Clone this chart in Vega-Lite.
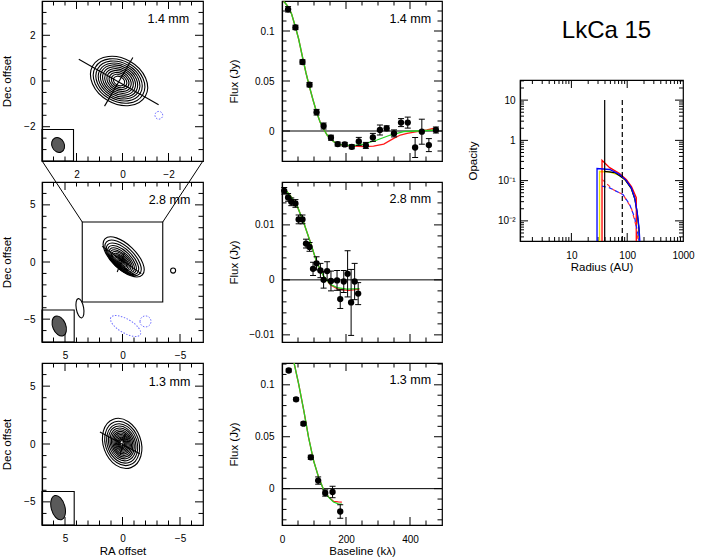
{
"$schema":"https://vega.github.io/schema/vega-lite/v6.json",
"padding":{"left":0,"top":0,"right":5,"bottom":3},
"autosize":{"type":"pad"},
"config":{
 "font":"Liberation Sans",
 "view":{"stroke":"black","strokeWidth":1.2},
 "axis":{"domainColor":"black","domainWidth":1.2,"ticks":false,"labelColor":"black","labelFontSize":10,"titleColor":"black","titleFontSize":11.5,"titleFontWeight":"normal","grid":false,"labelFlush":false,"labelOverlap":false},
 "tick":{"thickness":1,"opacity":1,"color":"black"},
 "text":{"color":"black"}
},
"datasets":{
 "kP1maj":[{"v":-2},{"v":0},{"v":2}],
 "kP1min":[{"v":-3},{"v":-2.5},{"v":-1.5},{"v":-1},{"v":-0.5},{"v":0.5},{"v":1},{"v":1.5},{"v":2.5},{"v":3}],
 "kP2maj":[{"v":-5},{"v":0},{"v":5}],
 "kP2min":[{"v":-6},{"v":-4},{"v":-3},{"v":-2},{"v":-1},{"v":1},{"v":2},{"v":3},{"v":4},{"v":6}],
 "kMxmaj":[{"v":200},{"v":400}],
 "kMxmin":[{"v":50},{"v":100},{"v":150},{"v":250},{"v":300},{"v":350},{"v":450}],
 "kM1maj":[{"v":0},{"v":0.05},{"v":0.1}],
 "kM1min":[{"v":-0.02},{"v":-0.01},{"v":0.01},{"v":0.02},{"v":0.03},{"v":0.04},{"v":0.06},{"v":0.07},{"v":0.08},{"v":0.09},{"v":0.11},{"v":0.12}],
 "kM2maj":[{"v":-0.01},{"v":0},{"v":0.01}],
 "kM2min":[{"v":-0.008},{"v":-0.006},{"v":-0.004},{"v":-0.002},{"v":0.002},{"v":0.004},{"v":0.006},{"v":0.008},{"v":0.012},{"v":0.014},{"v":0.016}],
 "kM3min":[{"v":-0.03},{"v":-0.02},{"v":-0.01},{"v":0.01},{"v":0.02},{"v":0.03},{"v":0.04},{"v":0.06},{"v":0.07},{"v":0.08},{"v":0.09},{"v":0.11},{"v":0.12}],
 "kRxmaj":[{"v":10},{"v":100}],
 "kRxmin":[{"v":2},{"v":3},{"v":4},{"v":5},{"v":6},{"v":7},{"v":8},{"v":9},{"v":20},{"v":30},{"v":40},{"v":50},{"v":60},{"v":70},{"v":80},{"v":90},{"v":200},{"v":300},{"v":400},{"v":500},{"v":600},{"v":700},{"v":800},{"v":900}],
 "kRymaj":[{"v":0.01},{"v":0.1},{"v":1},{"v":10}],
 "kRymin":[{"v":0.004},{"v":0.005},{"v":0.006},{"v":0.007},{"v":0.008},{"v":0.009},{"v":0.02},{"v":0.03},{"v":0.04},{"v":0.05},{"v":0.06},{"v":0.07},{"v":0.08},{"v":0.09},{"v":0.2},{"v":0.3},{"v":0.4},{"v":0.5},{"v":0.6},{"v":0.7},{"v":0.8},{"v":0.9},{"v":2},{"v":3},{"v":4},{"v":5},{"v":6},{"v":7},{"v":8},{"v":9},{"v":20},{"v":30}],
 "c14":[{"ra":0.15,"dec":0,"a":1.32},{"ra":0.15,"dec":0,"a":1.19},{"ra":0.15,"dec":0,"a":1.07},{"ra":0.15,"dec":0,"a":0.96},{"ra":0.15,"dec":0,"a":0.86},{"ra":0.15,"dec":0,"a":0.76},{"ra":0.15,"dec":0,"a":0.66},{"ra":0.15,"dec":0,"a":0.56},{"ra":0.15,"dec":0,"a":0.46},{"ra":0.15,"dec":0,"a":0.36},{"ra":0.15,"dec":0,"a":0.26}],
 "n14":[{"ra":-1.58,"dec":-1.5,"a":0.17}],
 "x14":[{"seg":"major","ra":1.9,"dec":0.95},{"seg":"major","ra":-1.57,"dec":-1.04},{"seg":"minor","ra":-0.45,"dec":1.03},{"seg":"minor","ra":0.78,"dec":-1.1}],
 "c28":[{"ra":-0.1,"dec":0.45,"a":2.26},{"ra":-0.05,"dec":0.36,"a":2.0},{"ra":0.0,"dec":0.28,"a":1.78},{"ra":0.04,"dec":0.21,"a":1.58},{"ra":0.07,"dec":0.15,"a":1.4},{"ra":0.1,"dec":0.11,"a":1.23},{"ra":0.12,"dec":0.08,"a":1.07},{"ra":0.14,"dec":0.05,"a":0.92},{"ra":0.15,"dec":0.03,"a":0.78},{"ra":0.16,"dec":0.02,"a":0.65},{"ra":0.17,"dec":0.01,"a":0.52},{"ra":0.17,"dec":0,"a":0.4},{"ra":0.17,"dec":0,"a":0.28},{"ra":0.17,"dec":0,"a":0.17}],
 "x28":[{"seg":"major","ra":1.77,"dec":1.37},{"seg":"major","ra":-1.63,"dec":-1.02},{"seg":"minor","ra":-0.17,"dec":0.79},{"seg":"minor","ra":0.46,"dec":-0.88}],
 "c13":[{"ra":0.03,"dec":0.05,"a":2.24},{"ra":0.03,"dec":0.05,"a":1.98},{"ra":0.03,"dec":0.05,"a":1.76},{"ra":0.03,"dec":0.05,"a":1.56},{"ra":0.03,"dec":0.05,"a":1.38},{"ra":0.03,"dec":0.05,"a":1.22},{"ra":0.03,"dec":0.05,"a":1.07},{"ra":0.03,"dec":0.05,"a":0.93},{"ra":0.03,"dec":0.05,"a":0.8},{"ra":0.03,"dec":0.05,"a":0.68},{"ra":0.03,"dec":0.05,"a":0.56},{"ra":0.03,"dec":0.05,"a":0.45},{"ra":0.03,"dec":0.05,"a":0.35},{"ra":0.03,"dec":0.05,"a":0.25}],
 "x13":[{"seg":"major","ra":1.96,"dec":1.04},{"seg":"major","ra":-1.5,"dec":-0.84},{"seg":"minor","ra":-0.25,"dec":0.95},{"seg":"minor","ra":0.2,"dec":-0.95}],
 "v14":[{"b":19,"flux":0.1217,"err":0.0027},{"b":42,"flux":0.1036,"err":0.0022},{"b":64,"flux":0.069,"err":0.0022},{"b":86,"flux":0.0463,"err":0.0022},{"b":108,"flux":0.0188,"err":0.0028},{"b":130,"flux":0.005,"err":0.003},{"b":153,"flux":-0.0067,"err":0.0025},{"b":174,"flux":-0.0131,"err":0.002},{"b":196,"flux":-0.0134,"err":0.002},{"b":218,"flux":-0.0158,"err":0.002},{"b":240,"flux":-0.0104,"err":0.004},{"b":262,"flux":-0.0144,"err":0.003},{"b":284,"flux":-0.0064,"err":0.004},{"b":306,"flux":0.001,"err":0.005},{"b":327,"flux":0.0027,"err":0.0025},{"b":350,"flux":-0.0024,"err":0.0035},{"b":372,"flux":0.0084,"err":0.004},{"b":393,"flux":0.0084,"err":0.0055},{"b":416,"flux":-0.0165,"err":0.01},{"b":437,"flux":-0.0007,"err":0.0125},{"b":459,"flux":-0.0141,"err":0.0065},{"b":481,"flux":0.001,"err":0.003}],
 "g14":[{"b":5,"flux":0.1295},{"b":10,"flux":0.128},{"b":20,"flux":0.124},{"b":30,"flux":0.117},{"b":42,"flux":0.104},{"b":52,"flux":0.092},{"b":64,"flux":0.074},{"b":75,"flux":0.058},{"b":86,"flux":0.044},{"b":97,"flux":0.031},{"b":108,"flux":0.019},{"b":119,"flux":0.009},{"b":130,"flux":0.002},{"b":141,"flux":-0.004},{"b":152,"flux":-0.008},{"b":163,"flux":-0.011},{"b":176,"flux":-0.0131},{"b":192,"flux":-0.0141},{"b":224,"flux":-0.0147},{"b":255,"flux":-0.0131},{"b":297,"flux":-0.009},{"b":339,"flux":-0.004},{"b":380,"flux":-0.0007},{"b":422,"flux":0.0},{"b":484,"flux":0.001}],
 "r14":[{"b":5,"flux":0.1295},{"b":10,"flux":0.128},{"b":20,"flux":0.124},{"b":30,"flux":0.117},{"b":42,"flux":0.104},{"b":52,"flux":0.092},{"b":64,"flux":0.074},{"b":75,"flux":0.058},{"b":86,"flux":0.044},{"b":97,"flux":0.031},{"b":108,"flux":0.019},{"b":119,"flux":0.009},{"b":130,"flux":0.002},{"b":141,"flux":-0.004},{"b":152,"flux":-0.008},{"b":163,"flux":-0.011},{"b":176,"flux":-0.0132},{"b":192,"flux":-0.0143},{"b":224,"flux":-0.0152},{"b":255,"flux":-0.0155},{"b":286,"flux":-0.0151},{"b":318,"flux":-0.0131},{"b":349,"flux":-0.0074},{"b":370,"flux":-0.004},{"b":391,"flux":-0.0024},{"b":422,"flux":-0.0007},{"b":453,"flux":0.001},{"b":484,"flux":0.0034}],
 "v28":[{"b":7,"flux":0.0162,"err":0.0006},{"b":19,"flux":0.015,"err":0.0007},{"b":29,"flux":0.0142,"err":0.0007},{"b":42,"flux":0.0139,"err":0.0007},{"b":52,"flux":0.011,"err":0.0008},{"b":64,"flux":0.011,"err":0.0008},{"b":75,"flux":0.0066,"err":0.0008},{"b":86,"flux":0.006,"err":0.0008},{"b":97,"flux":0.002,"err":0.0012},{"b":108,"flux":0.003,"err":0.0012},{"b":120,"flux":0.0017,"err":0.0013},{"b":130,"flux":0.0,"err":0.0015},{"b":141,"flux":0.0016,"err":0.0017},{"b":153,"flux":-0.0002,"err":0.0018},{"b":172,"flux":-0.0001,"err":0.0018},{"b":182,"flux":-0.0035,"err":0.0017},{"b":193,"flux":-0.0003,"err":0.002},{"b":205,"flux":0.0011,"err":0.0042},{"b":216,"flux":-0.0041,"err":0.006},{"b":227,"flux":-0.0003,"err":0.0033},{"b":238,"flux":-0.0025,"err":0.002}],
 "g28":[{"b":4,"flux":0.0168},{"b":26,"flux":0.0153},{"b":47,"flux":0.0135},{"b":68,"flux":0.0104},{"b":89,"flux":0.0068},{"b":109,"flux":0.0031},{"b":130,"flux":0.0007},{"b":151,"flux":-0.0008},{"b":172,"flux":-0.0014},{"b":203,"flux":-0.0017},{"b":242,"flux":-0.0016}],
 "r28":[{"b":4,"flux":0.0168},{"b":26,"flux":0.0153},{"b":47,"flux":0.0135},{"b":68,"flux":0.0104},{"b":89,"flux":0.0068},{"b":109,"flux":0.0031},{"b":130,"flux":0.0007},{"b":151,"flux":-0.0009},{"b":172,"flux":-0.0016},{"b":190,"flux":-0.0018},{"b":210,"flux":-0.0019},{"b":242,"flux":-0.0017}],
 "v13":[{"b":21,"flux":0.1138,"err":0.0015},{"b":44,"flux":0.086,"err":0.0015},{"b":67,"flux":0.0626,"err":0.0015},{"b":90,"flux":0.0302,"err":0.002},{"b":113,"flux":0.0078,"err":0.0035},{"b":135,"flux":-0.0042,"err":0.003},{"b":158,"flux":-0.0032,"err":0.0055},{"b":182,"flux":-0.022,"err":0.0065}],
 "g13":[{"b":32,"flux":0.128},{"b":37,"flux":0.122},{"b":52,"flux":0.101},{"b":68,"flux":0.0753},{"b":83,"flux":0.0493},{"b":99,"flux":0.0266},{"b":115,"flux":0.0104},{"b":130,"flux":-0.001},{"b":146,"flux":-0.0084},{"b":161,"flux":-0.0129},{"b":176,"flux":-0.0146},{"b":187,"flux":-0.0149}],
 "r13":[{"b":32,"flux":0.128},{"b":37,"flux":0.122},{"b":52,"flux":0.101},{"b":68,"flux":0.0753},{"b":83,"flux":0.0493},{"b":99,"flux":0.0266},{"b":115,"flux":0.0104},{"b":130,"flux":-0.001},{"b":146,"flux":-0.0082},{"b":161,"flux":-0.0122},{"b":176,"flux":-0.0128},{"b":187,"flux":-0.013}],
 "py":[{"r":32,"tau":0.001},{"r":32,"tau":0.169},{"r":48,"tau":0.166},{"r":73,"tau":0.135},{"r":97,"tau":0.097},{"r":118,"tau":0.064},{"r":136,"tau":0.037},{"r":150,"tau":0.017},{"r":160,"tau":0.007},{"r":167,"tau":0.001}],
 "pk":[{"r":39.5,"tau":0.17},{"r":60,"tau":0.158},{"r":90,"tau":0.108},{"r":118,"tau":0.064},{"r":138,"tau":0.034},{"r":152,"tau":0.015},{"r":163,"tau":0.006},{"r":170,"tau":0.001}],
 "pr":[{"r":35.4,"tau":0.001},{"r":35.4,"tau":0.32},{"r":48.5,"tau":0.21},{"r":73,"tau":0.15},{"r":97,"tau":0.105},{"r":120,"tau":0.07},{"r":145.6,"tau":0.0375},{"r":145.6,"tau":0.001}],
 "pb":[{"r":28.8,"tau":0.001},{"r":28.8,"tau":0.2},{"r":48.5,"tau":0.189},{"r":73.4,"tau":0.142},{"r":96.5,"tau":0.1},{"r":118.6,"tau":0.066},{"r":136,"tau":0.0375},{"r":150,"tau":0.0175},{"r":163,"tau":0.0068},{"r":172,"tau":0.002},{"r":175,"tau":0.001}],
 "prd":[{"r":35.4,"tau":0.107},{"r":55.7,"tau":0.06},{"r":84,"tau":0.045},{"r":118.6,"tau":0.021},{"r":142,"tau":0.0081},{"r":156,"tau":0.0035}],
 "pbd":[{"r":35.4,"tau":0.073},{"r":48.5,"tau":0.066},{"r":84,"tau":0.045},{"r":110.6,"tau":0.0257},{"r":136,"tau":0.012},{"r":156,"tau":0.0046},{"r":165,"tau":0.003}],
 "rings":[{"r":39.5,"kind":"solid"},{"r":81.7,"kind":"dashed"}]
},
"spacing":22,
"resolve":{"scale":{"size":"independent","color":"independent","strokeDash":"independent"}},
"hconcat":[
 {"vconcat":[
  {"width":161,"height":160,
   "resolve":{"axis":{"x":"independent","y":"independent"}},
   "layer":[
    {"data":{"name":"kP1maj"},"mark":{"type":"tick","orient":"vertical","size":16,"clip":true},"encoding":{"x":{"field":"v","type":"quantitative","axis":null},"y":{"datum":-3.5,"axis":null}}},
    {"data":{"name":"kP1maj"},"mark":{"type":"tick","orient":"vertical","size":16,"clip":true},"encoding":{"x":{"field":"v","type":"quantitative","axis":null},"y":{"datum":3.5,"axis":null}}},
    {"data":{"name":"kP1min"},"mark":{"type":"tick","orient":"vertical","size":9,"clip":true},"encoding":{"x":{"field":"v","type":"quantitative","axis":null},"y":{"datum":-3.5,"axis":null}}},
    {"data":{"name":"kP1min"},"mark":{"type":"tick","orient":"vertical","size":9,"clip":true},"encoding":{"x":{"field":"v","type":"quantitative","axis":null},"y":{"datum":3.5,"axis":null}}},
    {"data":{"name":"kP1maj"},"mark":{"type":"tick","orient":"horizontal","size":16,"clip":true},"encoding":{"y":{"field":"v","type":"quantitative","axis":null},"x":{"datum":-3.5,"axis":null}}},
    {"data":{"name":"kP1maj"},"mark":{"type":"tick","orient":"horizontal","size":16,"clip":true},"encoding":{"y":{"field":"v","type":"quantitative","axis":null},"x":{"datum":3.5,"axis":null}}},
    {"data":{"name":"kP1min"},"mark":{"type":"tick","orient":"horizontal","size":9,"clip":true},"encoding":{"y":{"field":"v","type":"quantitative","axis":null},"x":{"datum":-3.5,"axis":null}}},
    {"data":{"name":"kP1min"},"mark":{"type":"tick","orient":"horizontal","size":9,"clip":true},"encoding":{"y":{"field":"v","type":"quantitative","axis":null},"x":{"datum":3.5,"axis":null}}},
    {"data":{"name":"c14"},
     "mark":{"type":"point","shape":"M-1,0A1,0.74,0,1,0,1,0A1,0.74,0,1,0,-1,0Z","angle":30,"filled":false,"color":"black","strokeWidth":1.1,"opacity":1},
     "encoding":{
      "x":{"field":"ra","type":"quantitative","scale":{"domain":[-3.5,3.5],"reverse":true,"nice":false,"zero":false},
           "axis":{"orient":"bottom","title":null,"values":[-2,0,2],"format":"~g","labelPadding":8}},
      "y":{"field":"dec","type":"quantitative","scale":{"domain":[-3.5,3.5],"nice":false,"zero":false},
           "axis":{"orient":"left","title":"Dec offset","titleX":-30,"values":[-2,0,2],"format":"~g","labelPadding":7}},
      "size":{"field":"a","type":"quantitative","scale":{"type":"pow","exponent":2,"domain":[0,3.5],"range":[0,25921]},"legend":null}}},
    {"data":{"name":"n14"},
     "mark":{"type":"point","shape":"M-1,0A1,1,0,1,0,1,0A1,1,0,1,0,-1,0Z","filled":false,"color":"#7070ff","strokeWidth":1,"strokeDash":[1.5,1.5],"opacity":1},
     "encoding":{"x":{"field":"ra","type":"quantitative","axis":null},"y":{"field":"dec","type":"quantitative","axis":null},"size":{"field":"a","type":"quantitative","legend":null}}},
    {"data":{"name":"x14"},
     "mark":{"type":"line","color":"black","strokeWidth":1.1},
     "encoding":{"x":{"field":"ra","type":"quantitative","axis":null},"y":{"field":"dec","type":"quantitative","axis":null},"detail":{"field":"seg"}}},
    {"data":{"values":[{}]},
     "mark":{"type":"rect","fill":"transparent","stroke":"black","strokeWidth":1.1},
     "encoding":{"x":{"datum":3.5,"axis":null},"x2":{"datum":2.13},"y":{"datum":-3.5,"axis":null},"y2":{"datum":-2.12}}},
    {"data":{"values":[{}]},
     "mark":{"type":"point","shape":"M0,-1A0.8,1,0,1,0,0,1A0.8,1,0,1,0,0,-1Z","angle":-25,"filled":true,"color":"#5a5a5a","stroke":"black","strokeWidth":1,"size":240,"opacity":1},
     "encoding":{"x":{"datum":2.8,"axis":null},"y":{"datum":-2.8,"axis":null}}},
    {"data":{"values":[{"t":"1.4 mm"}]},
     "mark":{"type":"text","align":"right","baseline":"middle","fontSize":12.5},
     "encoding":{"x":{"datum":-2.9,"axis":null},"y":{"datum":2.7,"axis":null},"text":{"field":"t"}}}
   ]},
  {"width":161,"height":160,
   "resolve":{"axis":{"x":"independent","y":"independent"}},
   "layer":[
    {"data":{"name":"kP2maj"},"mark":{"type":"tick","orient":"vertical","size":16,"clip":true},"encoding":{"x":{"field":"v","type":"quantitative","axis":null},"y":{"datum":-7,"axis":null}}},
    {"data":{"name":"kP2maj"},"mark":{"type":"tick","orient":"vertical","size":16,"clip":true},"encoding":{"x":{"field":"v","type":"quantitative","axis":null},"y":{"datum":7,"axis":null}}},
    {"data":{"name":"kP2min"},"mark":{"type":"tick","orient":"vertical","size":9,"clip":true},"encoding":{"x":{"field":"v","type":"quantitative","axis":null},"y":{"datum":-7,"axis":null}}},
    {"data":{"name":"kP2min"},"mark":{"type":"tick","orient":"vertical","size":9,"clip":true},"encoding":{"x":{"field":"v","type":"quantitative","axis":null},"y":{"datum":7,"axis":null}}},
    {"data":{"name":"kP2maj"},"mark":{"type":"tick","orient":"horizontal","size":16,"clip":true},"encoding":{"y":{"field":"v","type":"quantitative","axis":null},"x":{"datum":-7,"axis":null}}},
    {"data":{"name":"kP2maj"},"mark":{"type":"tick","orient":"horizontal","size":16,"clip":true},"encoding":{"y":{"field":"v","type":"quantitative","axis":null},"x":{"datum":7,"axis":null}}},
    {"data":{"name":"kP2min"},"mark":{"type":"tick","orient":"horizontal","size":9,"clip":true},"encoding":{"y":{"field":"v","type":"quantitative","axis":null},"x":{"datum":-7,"axis":null}}},
    {"data":{"name":"kP2min"},"mark":{"type":"tick","orient":"horizontal","size":9,"clip":true},"encoding":{"y":{"field":"v","type":"quantitative","axis":null},"x":{"datum":7,"axis":null}}},
    {"data":{"name":"c28"},
     "mark":{"type":"point","shape":"M-1,0A1,0.47,0,1,0,1,0A1,0.47,0,1,0,-1,0Z","angle":44,"filled":false,"color":"black","strokeWidth":1.1,"opacity":1},
     "encoding":{
      "x":{"field":"ra","type":"quantitative","scale":{"domain":[-7,7],"reverse":true,"nice":false,"zero":false},
           "axis":{"orient":"bottom","title":null,"values":[-5,0,5],"format":"~g","labelPadding":8}},
      "y":{"field":"dec","type":"quantitative","scale":{"domain":[-7,7],"nice":false,"zero":false},
           "axis":{"orient":"left","title":"Dec offset","titleX":-30,"values":[-5,0,5],"format":"~g","labelPadding":7}},
      "size":{"field":"a","type":"quantitative","scale":{"type":"pow","exponent":2,"domain":[0,7],"range":[0,25921]},"legend":null}}},
    {"data":{"values":[{"ra":-4.4,"dec":-0.75,"a":0.22}]},
     "mark":{"type":"point","shape":"M-1,0A1,1,0,1,0,1,0A1,1,0,1,0,-1,0Z","filled":false,"color":"black","strokeWidth":1.1,"opacity":1},
     "encoding":{"x":{"field":"ra","type":"quantitative","axis":null},"y":{"field":"dec","type":"quantitative","axis":null},"size":{"field":"a","type":"quantitative","legend":null}}},
    {"data":{"values":[{"ra":3.7,"dec":-4.05,"a":0.85}]},
     "mark":{"type":"point","shape":"M0,-1A0.38,1,0,1,0,0,1A0.38,1,0,1,0,0,-1Z","angle":-10,"filled":true,"fill":"white","stroke":"black","strokeWidth":1.1,"opacity":1},
     "encoding":{"x":{"field":"ra","type":"quantitative","axis":null},"y":{"field":"dec","type":"quantitative","axis":null},"size":{"field":"a","type":"quantitative","legend":null}}},
    {"data":{"values":[{"ra":-0.27,"dec":-5.6,"a":1.48}]},
     "mark":{"type":"point","shape":"M-1,0A1,0.41,0,1,0,1,0A1,0.41,0,1,0,-1,0Z","angle":30,"filled":false,"color":"#7070ff","strokeWidth":1,"strokeDash":[1.5,1.5],"opacity":1},
     "encoding":{"x":{"field":"ra","type":"quantitative","axis":null},"y":{"field":"dec","type":"quantitative","axis":null},"size":{"field":"a","type":"quantitative","legend":null}}},
    {"data":{"values":[{"ra":-2.0,"dec":-5.2,"a":0.48}]},
     "mark":{"type":"point","shape":"M-1,0A1,1,0,1,0,1,0A1,1,0,1,0,-1,0Z","filled":false,"color":"#7070ff","strokeWidth":1,"strokeDash":[1.5,1.5],"opacity":1},
     "encoding":{"x":{"field":"ra","type":"quantitative","axis":null},"y":{"field":"dec","type":"quantitative","axis":null},"size":{"field":"a","type":"quantitative","legend":null}}},
    {"data":{"name":"x28"},
     "mark":{"type":"line","color":"black","strokeWidth":1.1},
     "encoding":{"x":{"field":"ra","type":"quantitative","axis":null},"y":{"field":"dec","type":"quantitative","axis":null},"detail":{"field":"seg"}}},
    {"data":{"values":[{}]},
     "mark":{"type":"rect","fill":"transparent","stroke":"black","strokeWidth":1.1},
     "encoding":{"x":{"datum":3.5,"axis":null},"x2":{"datum":-3.5},"y":{"datum":-3.5,"axis":null},"y2":{"datum":3.5}}},
    {"data":{"values":[{}]},
     "mark":{"type":"rule","color":"black","strokeWidth":1},
     "encoding":{"x":{"datum":3.5,"axis":null},"x2":{"datum":7},"y":{"datum":3.5,"axis":null},"y2":{"datum":8.85}}},
    {"data":{"values":[{}]},
     "mark":{"type":"rule","color":"black","strokeWidth":1},
     "encoding":{"x":{"datum":-3.5,"axis":null},"x2":{"datum":-7},"y":{"datum":3.5,"axis":null},"y2":{"datum":8.85}}},
    {"data":{"values":[{}]},
     "mark":{"type":"rect","fill":"transparent","stroke":"black","strokeWidth":1.1},
     "encoding":{"x":{"datum":7,"axis":null},"x2":{"datum":4.2},"y":{"datum":-7,"axis":null},"y2":{"datum":-4.2}}},
    {"data":{"values":[{}]},
     "mark":{"type":"point","shape":"M0,-1A0.62,1,0,1,0,0,1A0.62,1,0,1,0,0,-1Z","angle":-22,"filled":true,"color":"#5a5a5a","stroke":"black","strokeWidth":1,"size":441,"opacity":1},
     "encoding":{"x":{"datum":5.5,"axis":null},"y":{"datum":-5.6,"axis":null}}},
    {"data":{"values":[{"t":"2.8 mm"}]},
     "mark":{"type":"text","align":"right","baseline":"middle","fontSize":12.5},
     "encoding":{"x":{"datum":-5.9,"axis":null},"y":{"datum":5.45,"axis":null},"text":{"field":"t"}}}
   ]},
  {"width":161,"height":162,
   "resolve":{"axis":{"x":"independent","y":"independent"}},
   "layer":[
    {"data":{"name":"kP2maj"},"mark":{"type":"tick","orient":"vertical","size":16,"clip":true},"encoding":{"x":{"field":"v","type":"quantitative","axis":null},"y":{"datum":-7,"axis":null}}},
    {"data":{"name":"kP2maj"},"mark":{"type":"tick","orient":"vertical","size":16,"clip":true},"encoding":{"x":{"field":"v","type":"quantitative","axis":null},"y":{"datum":7,"axis":null}}},
    {"data":{"name":"kP2min"},"mark":{"type":"tick","orient":"vertical","size":9,"clip":true},"encoding":{"x":{"field":"v","type":"quantitative","axis":null},"y":{"datum":-7,"axis":null}}},
    {"data":{"name":"kP2min"},"mark":{"type":"tick","orient":"vertical","size":9,"clip":true},"encoding":{"x":{"field":"v","type":"quantitative","axis":null},"y":{"datum":7,"axis":null}}},
    {"data":{"name":"kP2maj"},"mark":{"type":"tick","orient":"horizontal","size":16,"clip":true},"encoding":{"y":{"field":"v","type":"quantitative","axis":null},"x":{"datum":-7,"axis":null}}},
    {"data":{"name":"kP2maj"},"mark":{"type":"tick","orient":"horizontal","size":16,"clip":true},"encoding":{"y":{"field":"v","type":"quantitative","axis":null},"x":{"datum":7,"axis":null}}},
    {"data":{"name":"kP2min"},"mark":{"type":"tick","orient":"horizontal","size":9,"clip":true},"encoding":{"y":{"field":"v","type":"quantitative","axis":null},"x":{"datum":-7,"axis":null}}},
    {"data":{"name":"kP2min"},"mark":{"type":"tick","orient":"horizontal","size":9,"clip":true},"encoding":{"y":{"field":"v","type":"quantitative","axis":null},"x":{"datum":7,"axis":null}}},
    {"data":{"name":"c13"},
     "mark":{"type":"point","shape":"M0,-1A0.73,1,0,1,0,0,1A0.73,1,0,1,0,0,-1Z","angle":-20,"filled":false,"color":"black","strokeWidth":1.1,"opacity":1},
     "encoding":{
      "x":{"field":"ra","type":"quantitative","scale":{"domain":[-7,7],"reverse":true,"nice":false,"zero":false},
           "axis":{"orient":"bottom","title":"RA offset","titleY":20,"values":[-5,0,5],"format":"~g","labelPadding":8}},
      "y":{"field":"dec","type":"quantitative","scale":{"domain":[-7,7],"nice":false,"zero":false},
           "axis":{"orient":"left","title":"Dec offset","titleX":-30,"values":[-5,0,5],"format":"~g","labelPadding":7}},
      "size":{"field":"a","type":"quantitative","scale":{"type":"pow","exponent":2,"domain":[0,7],"range":[0,25921]},"legend":null}}},
    {"data":{"name":"x13"},
     "mark":{"type":"line","color":"black","strokeWidth":1.1},
     "encoding":{"x":{"field":"ra","type":"quantitative","axis":null},"y":{"field":"dec","type":"quantitative","axis":null},"detail":{"field":"seg"}}},
    {"data":{"values":[{}]},
     "mark":{"type":"rect","fill":"transparent","stroke":"black","strokeWidth":1.1},
     "encoding":{"x":{"datum":7,"axis":null},"x2":{"datum":4.2},"y":{"datum":-7,"axis":null},"y2":{"datum":-4.1}}},
    {"data":{"values":[{}]},
     "mark":{"type":"point","shape":"M0,-1A0.55,1,0,1,0,0,1A0.55,1,0,1,0,0,-1Z","angle":-15,"filled":true,"color":"#5a5a5a","stroke":"black","strokeWidth":1,"size":625,"opacity":1},
     "encoding":{"x":{"datum":5.6,"axis":null},"y":{"datum":-5.5,"axis":null}}},
    {"data":{"values":[{"t":"1.3 mm"}]},
     "mark":{"type":"text","align":"right","baseline":"middle","fontSize":12.5},
     "encoding":{"x":{"datum":-5.9,"axis":null},"y":{"datum":5.36,"axis":null},"text":{"field":"t"}}}
   ]}
 ],"spacing":21,"bounds":"flush","resolve":{"scale":{"size":"independent"}}},
 {"vconcat":[
  {"width":160,"height":160,
   "resolve":{"axis":{"x":"independent","y":"independent"}},
   "layer":[
    {"data":{"name":"kMxmaj"},"mark":{"type":"tick","orient":"vertical","size":16,"clip":true},"encoding":{"x":{"field":"v","type":"quantitative","axis":null},"y":{"datum":-0.03,"axis":null}}},
    {"data":{"name":"kMxmaj"},"mark":{"type":"tick","orient":"vertical","size":16,"clip":true},"encoding":{"x":{"field":"v","type":"quantitative","axis":null},"y":{"datum":0.13,"axis":null}}},
    {"data":{"name":"kMxmin"},"mark":{"type":"tick","orient":"vertical","size":9,"clip":true},"encoding":{"x":{"field":"v","type":"quantitative","axis":null},"y":{"datum":-0.03,"axis":null}}},
    {"data":{"name":"kMxmin"},"mark":{"type":"tick","orient":"vertical","size":9,"clip":true},"encoding":{"x":{"field":"v","type":"quantitative","axis":null},"y":{"datum":0.13,"axis":null}}},
    {"data":{"name":"kM1maj"},"mark":{"type":"tick","orient":"horizontal","size":16,"clip":true},"encoding":{"y":{"field":"v","type":"quantitative","axis":null},"x":{"datum":0,"axis":null}}},
    {"data":{"name":"kM1maj"},"mark":{"type":"tick","orient":"horizontal","size":16,"clip":true},"encoding":{"y":{"field":"v","type":"quantitative","axis":null},"x":{"datum":500,"axis":null}}},
    {"data":{"name":"kM1min"},"mark":{"type":"tick","orient":"horizontal","size":9,"clip":true},"encoding":{"y":{"field":"v","type":"quantitative","axis":null},"x":{"datum":0,"axis":null}}},
    {"data":{"name":"kM1min"},"mark":{"type":"tick","orient":"horizontal","size":9,"clip":true},"encoding":{"y":{"field":"v","type":"quantitative","axis":null},"x":{"datum":500,"axis":null}}},
    {"data":{"values":[{}]},"mark":{"type":"rule","color":"black","strokeWidth":1},"encoding":{"y":{"datum":0,"axis":null}}},
    {"data":{"name":"r14"},"mark":{"type":"line","color":"#ff1a1a","strokeWidth":1.3,"clip":true},"encoding":{"x":{"field":"b","type":"quantitative","axis":null},"y":{"field":"flux","type":"quantitative","axis":null}}},
    {"data":{"name":"g14"},"mark":{"type":"line","color":"#22d422","strokeWidth":1.3,"clip":true},"encoding":{"x":{"field":"b","type":"quantitative","axis":null},"y":{"field":"flux","type":"quantitative","axis":null}}},
    {"data":{"name":"v14"},"mark":{"type":"errorbar","color":"black","rule":{"color":"black"},"ticks":{"size":6,"color":"black"}},
     "encoding":{"x":{"field":"b","type":"quantitative","axis":null},"y":{"field":"flux","type":"quantitative","axis":null},"yError":{"field":"err"}}},
    {"data":{"name":"v14"},"mark":{"type":"point","filled":true,"color":"black","size":40,"opacity":1},
     "encoding":{
      "x":{"field":"b","type":"quantitative","scale":{"domain":[0,500],"nice":false,"zero":false},"axis":{"orient":"bottom","labels":false,"title":null}},
      "y":{"field":"flux","type":"quantitative","scale":{"domain":[-0.03,0.13],"nice":false,"zero":false},"axis":{"orient":"left","title":"Flux (Jy)","titleX":-43,"values":[0,0.05,0.1],"format":"~g","labelPadding":8}}}},
    {"data":{"values":[{"t":"1.4 mm"}]},"mark":{"type":"text","align":"right","baseline":"middle","fontSize":12.5},
     "encoding":{"x":{"datum":466,"axis":null},"y":{"datum":0.1117,"axis":null},"text":{"field":"t"}}}
   ]},
  {"width":160,"height":160,
   "resolve":{"axis":{"x":"independent","y":"independent"}},
   "layer":[
    {"data":{"name":"kMxmaj"},"mark":{"type":"tick","orient":"vertical","size":16,"clip":true},"encoding":{"x":{"field":"v","type":"quantitative","axis":null},"y":{"datum":-0.0113,"axis":null}}},
    {"data":{"name":"kMxmaj"},"mark":{"type":"tick","orient":"vertical","size":16,"clip":true},"encoding":{"x":{"field":"v","type":"quantitative","axis":null},"y":{"datum":0.0178,"axis":null}}},
    {"data":{"name":"kMxmin"},"mark":{"type":"tick","orient":"vertical","size":9,"clip":true},"encoding":{"x":{"field":"v","type":"quantitative","axis":null},"y":{"datum":-0.0113,"axis":null}}},
    {"data":{"name":"kMxmin"},"mark":{"type":"tick","orient":"vertical","size":9,"clip":true},"encoding":{"x":{"field":"v","type":"quantitative","axis":null},"y":{"datum":0.0178,"axis":null}}},
    {"data":{"name":"kM2maj"},"mark":{"type":"tick","orient":"horizontal","size":16,"clip":true},"encoding":{"y":{"field":"v","type":"quantitative","axis":null},"x":{"datum":0,"axis":null}}},
    {"data":{"name":"kM2maj"},"mark":{"type":"tick","orient":"horizontal","size":16,"clip":true},"encoding":{"y":{"field":"v","type":"quantitative","axis":null},"x":{"datum":500,"axis":null}}},
    {"data":{"name":"kM2min"},"mark":{"type":"tick","orient":"horizontal","size":9,"clip":true},"encoding":{"y":{"field":"v","type":"quantitative","axis":null},"x":{"datum":0,"axis":null}}},
    {"data":{"name":"kM2min"},"mark":{"type":"tick","orient":"horizontal","size":9,"clip":true},"encoding":{"y":{"field":"v","type":"quantitative","axis":null},"x":{"datum":500,"axis":null}}},
    {"data":{"values":[{}]},"mark":{"type":"rule","color":"black","strokeWidth":1},"encoding":{"y":{"datum":0,"axis":null}}},
    {"data":{"name":"r28"},"mark":{"type":"line","color":"#ff1a1a","strokeWidth":1.3,"clip":true},"encoding":{"x":{"field":"b","type":"quantitative","axis":null},"y":{"field":"flux","type":"quantitative","axis":null}}},
    {"data":{"name":"g28"},"mark":{"type":"line","color":"#22d422","strokeWidth":1.3,"clip":true},"encoding":{"x":{"field":"b","type":"quantitative","axis":null},"y":{"field":"flux","type":"quantitative","axis":null}}},
    {"data":{"name":"v28"},"mark":{"type":"errorbar","color":"black","rule":{"color":"black"},"ticks":{"size":6,"color":"black"}},
     "encoding":{"x":{"field":"b","type":"quantitative","axis":null},"y":{"field":"flux","type":"quantitative","axis":null},"yError":{"field":"err"}}},
    {"data":{"name":"v28"},"mark":{"type":"point","filled":true,"color":"black","size":40,"opacity":1},
     "encoding":{
      "x":{"field":"b","type":"quantitative","scale":{"domain":[0,500],"nice":false,"zero":false},"axis":{"orient":"bottom","labels":false,"title":null}},
      "y":{"field":"flux","type":"quantitative","scale":{"domain":[-0.0113,0.0178],"nice":false,"zero":false},"axis":{"orient":"left","title":"Flux (Jy)","titleX":-43,"values":[-0.01,0,0.01],"format":"~g","labelPadding":8}}}},
    {"data":{"values":[{"t":"2.8 mm"}]},"mark":{"type":"text","align":"right","baseline":"middle","fontSize":12.5},
     "encoding":{"x":{"datum":466,"axis":null},"y":{"datum":0.01465,"axis":null},"text":{"field":"t"}}}
   ]},
  {"width":160,"height":162,
   "resolve":{"axis":{"x":"independent","y":"independent"}},
   "layer":[
    {"data":{"name":"kMxmaj"},"mark":{"type":"tick","orient":"vertical","size":16,"clip":true},"encoding":{"x":{"field":"v","type":"quantitative","axis":null},"y":{"datum":-0.035,"axis":null}}},
    {"data":{"name":"kMxmaj"},"mark":{"type":"tick","orient":"vertical","size":16,"clip":true},"encoding":{"x":{"field":"v","type":"quantitative","axis":null},"y":{"datum":0.121,"axis":null}}},
    {"data":{"name":"kMxmin"},"mark":{"type":"tick","orient":"vertical","size":9,"clip":true},"encoding":{"x":{"field":"v","type":"quantitative","axis":null},"y":{"datum":-0.035,"axis":null}}},
    {"data":{"name":"kMxmin"},"mark":{"type":"tick","orient":"vertical","size":9,"clip":true},"encoding":{"x":{"field":"v","type":"quantitative","axis":null},"y":{"datum":0.121,"axis":null}}},
    {"data":{"name":"kM1maj"},"mark":{"type":"tick","orient":"horizontal","size":16,"clip":true},"encoding":{"y":{"field":"v","type":"quantitative","axis":null},"x":{"datum":0,"axis":null}}},
    {"data":{"name":"kM1maj"},"mark":{"type":"tick","orient":"horizontal","size":16,"clip":true},"encoding":{"y":{"field":"v","type":"quantitative","axis":null},"x":{"datum":500,"axis":null}}},
    {"data":{"name":"kM3min"},"mark":{"type":"tick","orient":"horizontal","size":9,"clip":true},"encoding":{"y":{"field":"v","type":"quantitative","axis":null},"x":{"datum":0,"axis":null}}},
    {"data":{"name":"kM3min"},"mark":{"type":"tick","orient":"horizontal","size":9,"clip":true},"encoding":{"y":{"field":"v","type":"quantitative","axis":null},"x":{"datum":500,"axis":null}}},
    {"data":{"values":[{}]},"mark":{"type":"rule","color":"black","strokeWidth":1},"encoding":{"y":{"datum":0,"axis":null}}},
    {"data":{"name":"r13"},"mark":{"type":"line","color":"#ff1a1a","strokeWidth":1.3,"clip":true},"encoding":{"x":{"field":"b","type":"quantitative","axis":null},"y":{"field":"flux","type":"quantitative","axis":null}}},
    {"data":{"name":"g13"},"mark":{"type":"line","color":"#22d422","strokeWidth":1.3,"clip":true},"encoding":{"x":{"field":"b","type":"quantitative","axis":null},"y":{"field":"flux","type":"quantitative","axis":null}}},
    {"data":{"name":"v13"},"mark":{"type":"errorbar","color":"black","rule":{"color":"black"},"ticks":{"size":6,"color":"black"}},
     "encoding":{"x":{"field":"b","type":"quantitative","axis":null},"y":{"field":"flux","type":"quantitative","axis":null},"yError":{"field":"err"}}},
    {"data":{"name":"v13"},"mark":{"type":"point","filled":true,"color":"black","size":40,"opacity":1},
     "encoding":{
      "x":{"field":"b","type":"quantitative","scale":{"domain":[0,500],"nice":false,"zero":false},"axis":{"orient":"bottom","title":"Baseline (kλ)","titleY":20,"values":[0,200,400],"format":"d","labelPadding":9}},
      "y":{"field":"flux","type":"quantitative","scale":{"domain":[-0.035,0.121],"nice":false,"zero":false},"axis":{"orient":"left","title":"Flux (Jy)","titleX":-43,"values":[0,0.05,0.1],"format":"~g","labelPadding":8}}}},
    {"data":{"values":[{"t":"1.3 mm"}]},"mark":{"type":"text","align":"right","baseline":"middle","fontSize":12.5},
     "encoding":{"x":{"datum":466,"axis":null},"y":{"datum":0.1045,"axis":null},"text":{"field":"t"}}}
   ]}
 ],"spacing":21,"bounds":"flush"},
 {"vconcat":[
  {"width":163,"height":60,"view":{"stroke":null},
   "data":{"values":[{"name":"LkCa 15"}]},
   "mark":{"type":"text","fontSize":24,"align":"center","baseline":"middle","dx":5},
   "encoding":{"text":{"field":"name","type":"nominal"}}},
  {"width":163,"height":161,
   "resolve":{"axis":{"x":"independent","y":"independent"}},
   "layer":[
    {"data":{"name":"kRxmaj"},"mark":{"type":"tick","orient":"vertical","size":16,"clip":true},"encoding":{"x":{"field":"v","type":"quantitative","scale":{"type":"log","domain":[1.2,1000],"nice":false},"axis":null},"y":{"datum":0.00316,"scale":{"type":"log","domain":[0.00316,31.6],"nice":false},"axis":null}}},
    {"data":{"name":"kRxmaj"},"mark":{"type":"tick","orient":"vertical","size":16,"clip":true},"encoding":{"x":{"field":"v","type":"quantitative","scale":{"type":"log","domain":[1.2,1000],"nice":false},"axis":null},"y":{"datum":31.6,"scale":{"type":"log","domain":[0.00316,31.6],"nice":false},"axis":null}}},
    {"data":{"name":"kRxmin"},"mark":{"type":"tick","orient":"vertical","size":8,"clip":true},"encoding":{"x":{"field":"v","type":"quantitative","scale":{"type":"log","domain":[1.2,1000],"nice":false},"axis":null},"y":{"datum":0.00316,"scale":{"type":"log","domain":[0.00316,31.6],"nice":false},"axis":null}}},
    {"data":{"name":"kRxmin"},"mark":{"type":"tick","orient":"vertical","size":8,"clip":true},"encoding":{"x":{"field":"v","type":"quantitative","scale":{"type":"log","domain":[1.2,1000],"nice":false},"axis":null},"y":{"datum":31.6,"scale":{"type":"log","domain":[0.00316,31.6],"nice":false},"axis":null}}},
    {"data":{"name":"kRymaj"},"mark":{"type":"tick","orient":"horizontal","size":16,"clip":true},"encoding":{"y":{"field":"v","type":"quantitative","scale":{"type":"log","domain":[0.00316,31.6],"nice":false},"axis":null},"x":{"datum":1.2,"scale":{"type":"log","domain":[1.2,1000],"nice":false},"axis":null}}},
    {"data":{"name":"kRymaj"},"mark":{"type":"tick","orient":"horizontal","size":16,"clip":true},"encoding":{"y":{"field":"v","type":"quantitative","scale":{"type":"log","domain":[0.00316,31.6],"nice":false},"axis":null},"x":{"datum":1000,"scale":{"type":"log","domain":[1.2,1000],"nice":false},"axis":null}}},
    {"data":{"name":"kRymin"},"mark":{"type":"tick","orient":"horizontal","size":8,"clip":true},"encoding":{"y":{"field":"v","type":"quantitative","scale":{"type":"log","domain":[0.00316,31.6],"nice":false},"axis":null},"x":{"datum":1.2,"scale":{"type":"log","domain":[1.2,1000],"nice":false},"axis":null}}},
    {"data":{"name":"kRymin"},"mark":{"type":"tick","orient":"horizontal","size":8,"clip":true},"encoding":{"y":{"field":"v","type":"quantitative","scale":{"type":"log","domain":[0.00316,31.6],"nice":false},"axis":null},"x":{"datum":1000,"scale":{"type":"log","domain":[1.2,1000],"nice":false},"axis":null}}},
    {"data":{"name":"py"},"mark":{"type":"line","color":"#e8e800","strokeWidth":1.4,"clip":true},
     "encoding":{"x":{"field":"r","type":"quantitative","scale":{"type":"log","domain":[1.2,1000],"nice":false},"axis":null},"y":{"field":"tau","type":"quantitative","scale":{"type":"log","domain":[0.00316,31.6],"nice":false},"axis":null},"order":{"value":null}}},
    {"data":{"name":"pk"},"mark":{"type":"line","color":"black","strokeWidth":1.2,"clip":true},
     "encoding":{"x":{"field":"r","type":"quantitative","axis":null},"y":{"field":"tau","type":"quantitative","axis":null},"order":{"value":null}}},
    {"data":{"name":"pr"},"mark":{"type":"line","color":"#ff0000","strokeWidth":1.3,"clip":true},
     "encoding":{"x":{"field":"r","type":"quantitative","axis":null},"y":{"field":"tau","type":"quantitative","axis":null},"order":{"value":null}}},
    {"data":{"name":"pb"},"mark":{"type":"line","color":"#0000ff","strokeWidth":1.3,"clip":true},
     "encoding":{
      "x":{"field":"r","type":"quantitative","axis":{"orient":"bottom","title":"Radius (AU)","titleY":20,"values":[10,100,1000],"format":"d","labelPadding":9}},
      "y":{"field":"tau","type":"quantitative","axis":{"orient":"left","title":"Opacity","titleX":-42,"values":[0.01,0.1,1,10],"labelExpr":"datum.value === 10 ? '10' : datum.value === 1 ? '1' : datum.value === 0.1 ? '10⁻¹' : '10⁻²'","labelPadding":5}},
      "order":{"value":null}}},
    {"data":{"name":"prd"},"mark":{"type":"line","color":"#ff3030","strokeWidth":1.2,"strokeDash":[4,3],"clip":true},
     "encoding":{"x":{"field":"r","type":"quantitative","axis":null},"y":{"field":"tau","type":"quantitative","axis":null}}},
    {"data":{"name":"pbd"},"mark":{"type":"line","color":"#2020ff","strokeWidth":1.2,"strokeDash":[4,3],"clip":true},
     "encoding":{"x":{"field":"r","type":"quantitative","axis":null},"y":{"field":"tau","type":"quantitative","axis":null}}},
    {"data":{"name":"rings"},"mark":{"type":"rule","color":"black","strokeWidth":1.2,"clip":true},
     "encoding":{"x":{"field":"r","type":"quantitative","axis":null},"y":{"datum":10,"axis":null},"y2":{"datum":0.001},
      "strokeDash":{"field":"kind","type":"nominal","scale":{"domain":["solid","dashed"],"range":[[1,0],[5,3]]},"legend":null}}}
   ]}
 ],"spacing":19,"bounds":"flush"}
]
}
